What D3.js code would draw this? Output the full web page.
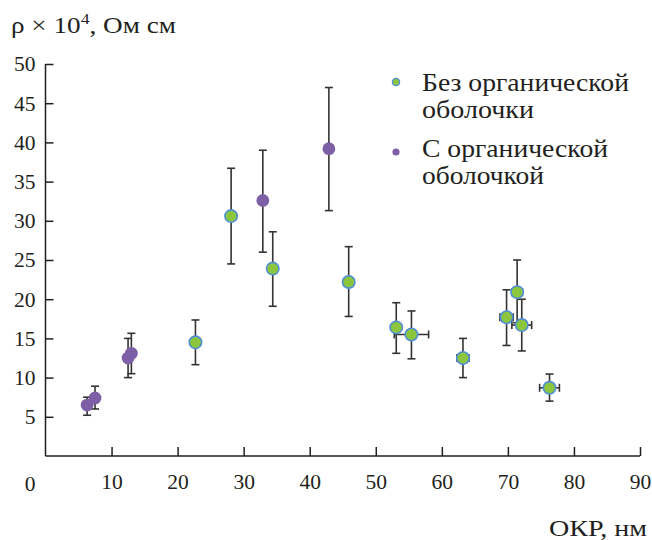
<!DOCTYPE html>
<html>
<head>
<meta charset="utf-8">
<script src="https://cdn.jsdelivr.net/npm/d3@7"></script>
<style>
  html, body { margin: 0; padding: 0; background: #fff; }
  svg { display: block; }
  text { font-family: "Liberation Serif", "DejaVu Serif", "Noto Serif", "Times New Roman", serif; fill: #231f20; }
</style>
</head>
<body>
<script>
// Size of crystallites (ОКР, nm) vs resistivity, two sample series
const bareX     = [22.7, 28.1, 34.4, 45.9, 53.1, 55.4, 63.2, 69.8, 71.4, 72.1, 76.3];
const bareY     = [14.5, 30.6, 23.9, 22.2, 16.4, 15.5, 12.5, 17.7, 20.9, 16.7, 8.7];
const bareYHigh = [17.35, 36.7, 28.6, 26.7, 19.55, 18.5, 15.0, 21.2, 25.0, 20.0, 10.45];
const bareYLow  = [11.65, 24.5, 19.1, 17.8, 13.1, 12.4, 10.0, 14.1, 17.0, 13.4, 7.0];
const bareXErr  = [0, 0, 0, 0, 0, 2.6, 0.9, 1.0, 0.8, 1.5, 1.5];

const coatX     = [6.3, 7.5, 12.5, 13.0, 32.9, 42.9];
const coatY     = [6.5, 7.4, 12.5, 13.1, 32.6, 39.2];
const coatYHigh = [7.5, 8.9, 15.0, 15.65, 39.0, 47.0];
const coatYLow  = [5.2, 6.0, 10.0, 10.5, 26.0, 31.3];
const coatXErr  = [0, 0, 0, 0, 0, 0];

const xTicks = [10, 20, 30, 40, 50, 60, 70, 80, 90];
const yTicks = [5, 10, 15, 20, 25, 30, 35, 40, 45, 50];
const legendLabels = [["Без органической", "оболочки"], ["С органической", "оболочкой"]];

const W = 652, H = 540;
const svg = d3.select("body").append("svg").attr("width", W).attr("height", H);

const x = d3.scaleLinear().domain([0, 90]).range([45.5, 640]);
const y = d3.scaleLinear().domain([0, 50]).range([456, 64]);

const axisColor = "#231f20";
const serif = '"Liberation Serif", "DejaVu Serif", "Noto Serif", "Times New Roman", serif';
const tickFont = 21.5;

// Axes with inward ticks
const gx = svg.append("g").attr("transform", `translate(0,${y(0)})`)
  .call(d3.axisBottom(x).tickValues(xTicks).tickSize(-9).tickPadding(18).tickFormat(d3.format("d")));
const gy = svg.append("g").attr("transform", `translate(${x(0)},0)`)
  .call(d3.axisLeft(y).tickValues(yTicks).tickSize(-8).tickPadding(10).tickFormat(d3.format("d")));

[gx, gy].forEach(g => {
  g.attr("font-family", serif);
  g.select(".domain").attr("stroke", axisColor).attr("stroke-width", 1.5);
  g.selectAll(".tick line").attr("stroke", axisColor).attr("stroke-width", 1.5);
  g.selectAll(".tick text").style("font-size", tickFont + "px")
    .style("font-family", serif).attr("fill", axisColor);
});
gx.select(".domain").attr("d", `M${x(0)},0H${x(90)}`);
gy.select(".domain").attr("d", `M0,${y(0)}V${y(50)}`);

// Origin label
svg.append("text").attr("x", 30).attr("y", 491).attr("text-anchor", "middle")
  .style("font-size", tickFont + "px").text("0");

// Axis titles
const yTitle = svg.append("text").attr("x", 11).attr("y", 33).style("font-size", "23px")
  .attr("textLength", 165).attr("lengthAdjust", "spacingAndGlyphs");
yTitle.append("tspan").text("ρ × 10");
yTitle.append("tspan").attr("dy", -9).style("font-size", "15px").text("4");
yTitle.append("tspan").attr("dy", 9).text(", Ом см");

svg.append("text").attr("x", 647).attr("y", 536).attr("text-anchor", "end")
  .style("font-size", "23px")
  .attr("textLength", 98).attr("lengthAdjust", "spacingAndGlyphs")
  .text("ОКР, нм");

// Error bars
function errorBars(xs, ys, hi, lo, xe) {
  const g = svg.append("g").attr("stroke", "#333").attr("stroke-width", 1.6).attr("fill", "none");
  const cap = 4;
  xs.forEach((xv, i) => {
    const cx = x(xv);
    g.append("line").attr("x1", cx).attr("x2", cx).attr("y1", y(hi[i])).attr("y2", y(lo[i]));
    g.append("line").attr("x1", cx - cap).attr("x2", cx + cap).attr("y1", y(hi[i])).attr("y2", y(hi[i]));
    g.append("line").attr("x1", cx - cap).attr("x2", cx + cap).attr("y1", y(lo[i])).attr("y2", y(lo[i]));
    if (xe[i] > 0) {
      const cy = y(ys[i]);
      const x0 = x(xv - xe[i]), x1 = x(xv + xe[i]);
      g.append("line").attr("x1", x0).attr("x2", x1).attr("y1", cy).attr("y2", cy);
      g.append("line").attr("x1", x0).attr("x2", x0).attr("y1", cy - cap).attr("y2", cy + cap);
      g.append("line").attr("x1", x1).attr("x2", x1).attr("y1", cy - cap).attr("y2", cy + cap);
    }
  });
}
errorBars(bareX, bareY, bareYHigh, bareYLow, bareXErr);
errorBars(coatX, coatY, coatYHigh, coatYLow, coatXErr);

const green = "#8cc63f", blue = "#4f8ed6", purple = "#7d5fa6";

svg.append("g").selectAll("circle").data(bareX).join("circle")
  .attr("cx", d => x(d)).attr("cy", (d, i) => y(bareY[i])).attr("r", 6.2)
  .attr("fill", green).attr("stroke", blue).attr("stroke-width", 1.6);

svg.append("g").selectAll("circle").data(coatX).join("circle")
  .attr("cx", d => x(d)).attr("cy", (d, i) => y(coatY[i])).attr("r", 6.4)
  .attr("fill", purple);

// Legend
const legend = svg.append("g");
const legendRows = [
  { cy: 82, lines: legendLabels[0], widths: [207, 112], base: 91, fill: green, stroke: blue },
  { cy: 152, lines: legendLabels[1], widths: [186, 122], base: 157, fill: purple, stroke: "none" }
];
legendRows.forEach(r => {
  legend.append("circle").attr("cx", 396).attr("cy", r.cy).attr("r", 3.6)
    .attr("fill", r.fill).attr("stroke", r.stroke).attr("stroke-width", 1.3);
  r.lines.forEach((t, j) => {
    legend.append("text").attr("x", 422).attr("y", r.base + j * 26.5)
      .style("font-size", "26px")
      .attr("textLength", r.widths[j]).attr("lengthAdjust", "spacingAndGlyphs")
      .text(t);
  });
});
</script>
</body>
</html>
